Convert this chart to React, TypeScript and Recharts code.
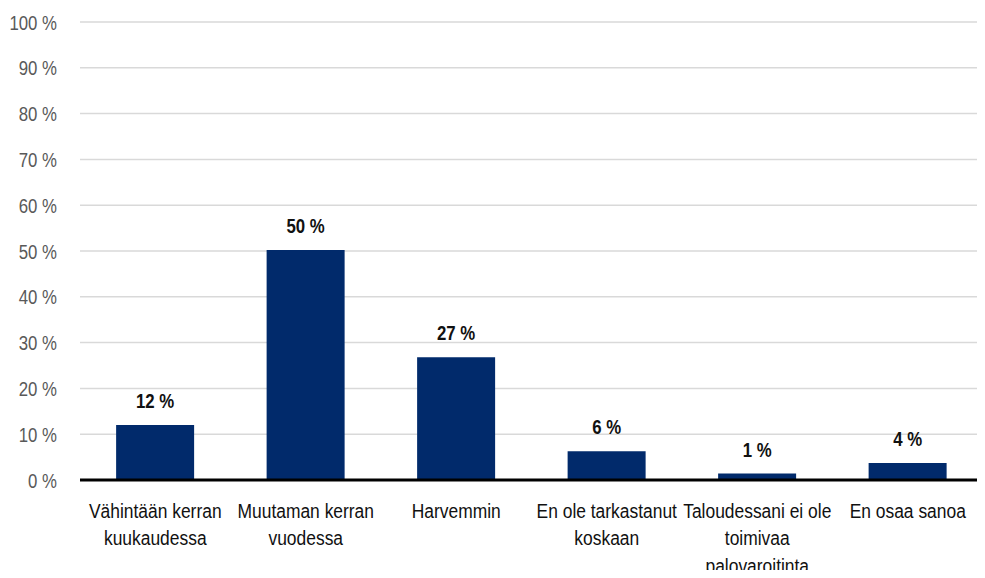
import { BarChart, Bar, XAxis, YAxis, CartesianGrid, LabelList, ReferenceLine } from 'recharts';

const categories = [
  'Vähintään kerran\nkuukaudessa',
  'Muutaman kerran\nvuodessa',
  'Harvemmin',
  'En ole tarkastanut\nkoskaan',
  'Taloudessani ei ole\ntoimivaa\npalovaroitinta',
  'En osaa sanoa',
];
const shares = [12, 50.2, 26.8, 6.3, 1.4, 3.7];
const shareLabels = ['12 %', '50 %', '27 %', '6 %', '1 %', '4 %'];
const yTicks = [0, 10, 20, 30, 40, 50, 60, 70, 80, 90, 100];

const chartData = categories.map((name, i) => ({
  name,
  value: shares[i],
  label: shareLabels[i],
}));

const FONT = '"Liberation Sans", Arial, sans-serif';

// the source font is a condensed face, so squeeze the text horizontally
function CategoryTick({ x, y, payload }: any) {
  const lines = String(payload.value).split('\n');
  return (
    <g transform={`translate(${x},${y}) scale(0.83,1)`}>
      {lines.map((line, i) => (
        <text key={i} x={0} y={38 + i * 27.5} textAnchor="middle" fill="#111" fontSize={21} fontFamily={FONT}>
          {line}
        </text>
      ))}
    </g>
  );
}

function PercentTick({ x, y, payload }: any) {
  return (
    <g transform={`translate(${x},${y}) scale(0.8,1)`}>
      <text x={0} y={0} dy="0.36em" textAnchor="end" fill="#595959" fontSize={21} fontFamily={FONT}>
        {`${payload.value} %`}
      </text>
    </g>
  );
}

function ValueLabel({ x, y, width, value }: any) {
  return (
    <g transform={`translate(${Number(x) + Number(width) / 2},${Number(y) - 17}) scale(0.8,1)`}>
      <text x={0} y={0} textAnchor="middle" fill="#111" fontSize={21} fontWeight="bold" fontFamily={FONT}>
        {value}
      </text>
    </g>
  );
}

export default function App() {
  return (
    <div style={{ margin: -8, width: 985, height: 578, background: '#fff' }}>
      <BarChart
        width={985}
        height={578}
        data={chartData}
        margin={{ top: 22, right: 2, left: 0, bottom: 0 }}
        barCategoryGap="24%"
      >
        <CartesianGrid vertical={false} stroke="#d9d9d9" strokeWidth={1.5} />
        <XAxis
          dataKey="name"
          axisLine={false}
          tickLine={false}
          tickSize={0}
          tickMargin={0}
          height={98}
          interval={0}
          tick={<CategoryTick />}
        />
        <YAxis
          domain={[0, 100]}
          ticks={yTicks}
          width={80}
          axisLine={false}
          tickLine={false}
          tickSize={0}
          tickMargin={23}
          tick={<PercentTick />}
        />
        <Bar dataKey="value" fill="#012a6b" isAnimationActive={false}>
          <LabelList dataKey="label" content={<ValueLabel />} />
        </Bar>
        <ReferenceLine y={0} stroke="#000" strokeWidth={3} />
      </BarChart>
    </div>
  );
}
